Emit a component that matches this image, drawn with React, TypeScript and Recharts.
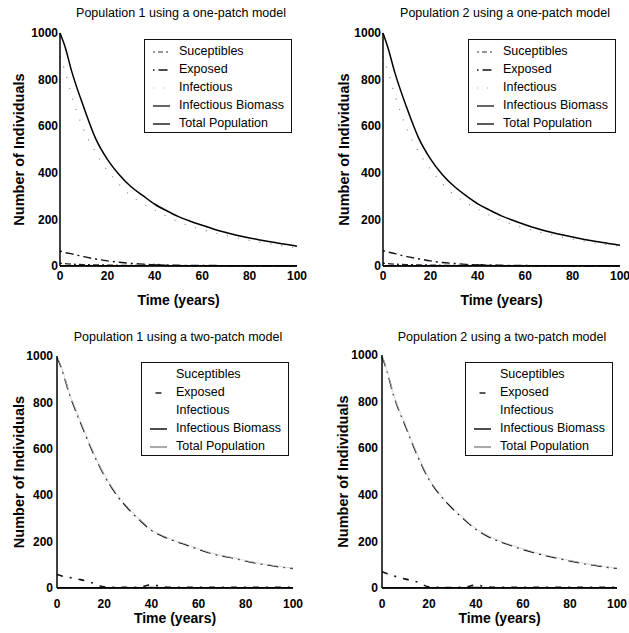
import React from 'react';
import { LineChart, Line, XAxis, YAxis, Legend } from 'recharts';

const FONT = "'Liberation Sans', Arial, Helvetica, sans-serif";

const time = [0, 2, 5, 10, 15, 20, 25, 30, 35, 40, 45, 50, 55, 60, 65, 70, 75, 80, 85, 90, 95, 100];
const seriesNames = ['Suceptibles', 'Exposed', 'Infectious', 'Infectious Biomass', 'Total Population'];
const seriesKeys = ['s', 'e', 'i', 'b', 'n'];
const xTicks = [0, 20, 40, 60, 80, 100];
const yTicks = [0, 200, 400, 600, 800, 1000];
const titles = [
  'Population 1 using a one-patch model',
  'Population 2 using a one-patch model',
  'Population 1 using a two-patch model',
  'Population 2 using a two-patch model',
];
const xLabel = 'Time (years)';
const yLabel = 'Number of Individuals';

// Population 1, one-patch model
const sus1a = [12, 10, 8, 6, 5, 4, 3, 3, 3, 7, 3, 2, 2, 2, 2, 2, 2, 2, 1, 1, 1, 1];
const exp1a = [65, 58, 52, 40, 30, 22, 16, 11, 8, 5, 4, 3, 2, 2, 2, 1, 1, 1, 1, 1, 1, 1];
const inf1a = [900, 840, 730, 585, 490, 410, 350, 300, 268, 240, 213, 190, 171, 156, 143, 131, 120, 110, 101, 93, 85, 78];
const bio1a = [0, 1, 1, 1, 1, 1, 1, 1, 1, 2, 1, 1, 1, 1, 1, 1, 1, 1, 1, 1, 1, 1];
const tot1a = [1000, 945, 833, 682, 548, 458, 392, 340, 302, 265, 237, 212, 192, 175, 158, 144, 131, 120, 111, 102, 93, 85];

// Population 2, one-patch model
const sus2a = [12, 10, 8, 6, 5, 4, 3, 3, 3, 6, 3, 2, 2, 2, 2, 2, 2, 2, 1, 1, 1, 1];
const exp2a = [66, 60, 53, 40, 31, 22, 15, 11, 7, 5, 4, 3, 2, 2, 1, 1, 1, 1, 1, 1, 1, 1];
const inf2a = [900, 840, 735, 590, 490, 415, 355, 305, 272, 244, 218, 196, 177, 162, 148, 136, 125, 115, 106, 98, 91, 84];
const bio2a = [0, 1, 1, 1, 1, 1, 1, 1, 1, 2, 1, 1, 1, 1, 1, 1, 1, 1, 1, 1, 1, 1];
const tot2a = [1000, 940, 830, 680, 550, 460, 393, 342, 302, 267, 240, 215, 195, 177, 161, 147, 135, 124, 114, 105, 97, 89];

// Population 1, two-patch model
const sus1b = [2, 2, 2, 1, 1, 1, 1, 1, 1, 2, 1, 1, 1, 1, 1, 1, 1, 1, 1, 1, 1, 1];
const exp1b = [58, 52, 46, 36, 22, 5, 3, 3, 4, 14, 5, 3, 3, 3, 3, 3, 3, 3, 3, 3, 3, 3];
const inf1b = [995, 945, 845, 712, 590, 486, 405, 344, 293, 249, 222, 202, 185, 167, 150, 138, 128, 116, 106, 98, 90, 84];
const bio1b = [0, 1, 1, 1, 1, 1, 1, 1, 1, 2, 1, 1, 1, 1, 1, 1, 1, 1, 1, 1, 1, 1];
const tot1b = [1000, 950, 850, 718, 595, 490, 410, 348, 296, 252, 225, 205, 188, 170, 152, 140, 130, 118, 108, 100, 92, 86];

// Population 2, two-patch model
const sus2b = [2, 2, 2, 1, 1, 1, 1, 1, 1, 2, 1, 1, 1, 1, 1, 1, 1, 1, 1, 1, 1, 1];
const exp2b = [70, 62, 52, 38, 26, 5, 3, 2, 4, 12, 5, 3, 3, 3, 3, 3, 3, 3, 3, 3, 3, 3];
const inf2b = [995, 935, 825, 694, 570, 466, 396, 341, 294, 252, 222, 200, 182, 165, 151, 138, 127, 116, 106, 98, 90, 84];
const bio2b = [0, 1, 1, 1, 1, 1, 1, 1, 1, 2, 1, 1, 1, 1, 1, 1, 1, 1, 1, 1, 1, 1];
const tot2b = [1000, 940, 830, 700, 575, 470, 400, 345, 297, 255, 225, 203, 185, 168, 154, 141, 130, 118, 108, 100, 92, 86];

type Row = { t: number; s: number; e: number; i: number; b: number; n: number };
function rows(s: number[], e: number[], i: number[], b: number[], n: number[]): Row[] {
  return time.map((t, k) => ({ t, s: s[k], e: e[k], i: i[k], b: b[k], n: n[k] }));
}

type Sty = { stroke: string; width: number; dash?: string; offset?: number };

const oneLines: Record<string, Sty> = {
  s: { stroke: '#222', width: 1.3, dash: '2 3 6 3' },
  e: { stroke: '#111', width: 1.4, dash: '2 4 8 4' },
  i: { stroke: '#777', width: 1.1, dash: '1 10' },
  b: { stroke: '#111', width: 1.4 },
  n: { stroke: '#000', width: 1.5 },
};
const oneLegend: Record<string, Sty> = {
  s: { stroke: '#333', width: 1.2, dash: '2 3 5 3' },
  e: { stroke: '#111', width: 1.3, dash: '1.5 4 9 3' },
  i: { stroke: '#aaa', width: 1, dash: '1 9' },
  b: { stroke: '#111', width: 1.3 },
  n: { stroke: '#000', width: 1.3 },
};
const twoLines: Record<string, Sty> = {
  s: { stroke: '#999', width: 1, dash: '2 8' },
  e: { stroke: '#111', width: 1.6, dash: '6 7 2 7' },
  i: { stroke: '#111', width: 1.4, dash: '11 5 2 5' },
  b: { stroke: '#000', width: 1.5 },
  n: { stroke: '#cfcfcf', width: 0.8 },
};
const twoLegend: Record<string, Sty> = {
  s: { stroke: 'none', width: 1 },
  e: { stroke: '#111', width: 1.4, dash: '6 20', offset: -5.5 },
  i: { stroke: 'none', width: 1 },
  b: { stroke: '#000', width: 1.4 },
  n: { stroke: '#555', width: 1 },
};

type Cfg = {
  left: number; top: number; width: number; height: number;
  plotLeft: number; plotRight: number; plotTop: number; plotBottom: number;
  yLabelX: number; yTickGap: number; xTickGap: number; xLabelOffset: number;
  title: string; titleX: number; titleY: number;
  legendX: number; legendY: number;
  data: Row[]; lines: Record<string, Sty>; legend: Record<string, Sty>;
};

const panels: Cfg[] = [
  {
    left: 0, top: 0, width: 315, height: 310,
    plotLeft: 60, plotRight: 297, plotTop: 33, plotBottom: 266,
    yLabelX: 19, yTickGap: 2, xTickGap: 5, xLabelOffset: 5,
    title: titles[0], titleX: 181, titleY: 6,
    legendX: 144, legendY: 39,
    data: rows(sus1a, exp1a, inf1a, bio1a, tot1a), lines: oneLines, legend: oneLegend,
  },
  {
    left: 315, top: 0, width: 314, height: 310,
    plotLeft: 68, plotRight: 305, plotTop: 33, plotBottom: 266,
    yLabelX: 29, yTickGap: 2, xTickGap: 5, xLabelOffset: 5,
    title: titles[1], titleX: 190, titleY: 6,
    legendX: 153, legendY: 39,
    data: rows(sus2a, exp2a, inf2a, bio2a, tot2a), lines: oneLines, legend: oneLegend,
  },
  {
    left: 0, top: 310, width: 315, height: 323,
    plotLeft: 57, plotRight: 293, plotTop: 46, plotBottom: 278,
    yLabelX: 19, yTickGap: 4, xTickGap: 11, xLabelOffset: 10,
    title: titles[2], titleX: 178, titleY: 20,
    legendX: 141, legendY: 52,
    data: rows(sus1b, exp1b, inf1b, bio1b, tot1b), lines: twoLines, legend: twoLegend,
  },
  {
    left: 315, top: 310, width: 314, height: 323,
    plotLeft: 67, plotRight: 302, plotTop: 45, plotBottom: 278,
    yLabelX: 28, yTickGap: 4, xTickGap: 11, xLabelOffset: 10,
    title: titles[3], titleX: 187, titleY: 20,
    legendX: 150, legendY: 52,
    data: rows(sus2b, exp2b, inf2b, bio2b, tot2b), lines: twoLines, legend: twoLegend,
  },
];

function LegendBox({ styles }: { styles: Record<string, Sty> }) {
  return (
    <div
      style={{
        width: 148, height: 94, boxSizing: 'border-box', border: '1.5px solid #111',
        background: '#fff', paddingTop: 3, fontFamily: FONT, fontSize: 12.5, color: '#000',
      }}
    >
      {seriesKeys.map((k, idx) => {
        const st = styles[k];
        return (
          <div key={k} style={{ height: 17.9, display: 'flex', alignItems: 'center' }}>
            <svg width={34} height={10} style={{ flex: 'none', display: 'block' }}>
              <line
                x1={8} x2={25} y1={5} y2={5}
                stroke={st.stroke} strokeWidth={st.width}
                strokeDasharray={st.dash} strokeDashoffset={st.offset}
              />
            </svg>
            <span style={{ lineHeight: '17.9px', whiteSpace: 'nowrap' }}>{seriesNames[idx]}</span>
          </div>
        );
      })}
    </div>
  );
}

const tickStyle = { fontSize: 12, fontWeight: 700, fontFamily: FONT, fill: '#000' };
const yLabelStyle = { fontSize: 14.5, fontWeight: 700, fontFamily: FONT, fill: '#000' };
const xLabelStyle = { fontSize: 14, fontWeight: 700, fontFamily: FONT, fill: '#000' };

function Panel({ cfg }: { cfg: Cfg }) {
  const c = cfg;
  return (
    <div style={{ position: 'absolute', left: c.left, top: c.top, width: c.width, height: c.height }}>
      <LineChart
        width={c.width}
        height={c.height}
        data={c.data}
        margin={{ top: c.plotTop, right: c.width - c.plotRight, bottom: 0, left: 0 }}
      >
        <XAxis
          dataKey="t"
          type="number"
          domain={[0, 100]}
          ticks={xTicks}
          interval={0}
          height={c.height - c.plotBottom}
          tickLine={false}
          tickSize={0}
          tickMargin={c.xTickGap}
          axisLine={{ stroke: '#000', strokeWidth: 1.5 }}
          tick={tickStyle}
          label={{ value: xLabel, position: 'insideBottom', offset: c.xLabelOffset, style: xLabelStyle }}
        />
        <YAxis
          type="number"
          domain={[0, 1000]}
          ticks={yTicks}
          interval={0}
          width={c.plotLeft}
          tickLine={false}
          tickSize={0}
          tickMargin={c.yTickGap}
          axisLine={{ stroke: '#000', strokeWidth: 1.5 }}
          tick={tickStyle}
          label={{
            value: yLabel, angle: -90, position: 'insideLeft', offset: c.yLabelX,
            style: { ...yLabelStyle, textAnchor: 'middle' },
          }}
        />
        {seriesKeys.map((k, idx) => {
          const st = c.lines[k];
          return (
            <Line
              key={k}
              dataKey={k}
              name={seriesNames[idx]}
              type="monotone"
              stroke={st.stroke}
              strokeWidth={st.width}
              strokeDasharray={st.dash}
              dot={false}
              activeDot={false}
              isAnimationActive={false}
            />
          );
        })}
        <Legend
          layout="horizontal"
          verticalAlign="middle"
          align="center"
          wrapperStyle={{ left: c.legendX, top: c.legendY, width: 148, height: 94 }}
          content={() => <LegendBox styles={c.legend} />}
        />
      </LineChart>
      <div
        style={{
          position: 'absolute', left: c.titleX - 150, width: 300, top: c.titleY,
          textAlign: 'center', fontFamily: FONT, fontSize: 12.5, lineHeight: '15px', color: '#000',
          whiteSpace: 'nowrap',
        }}
      >
        {c.title}
      </div>
    </div>
  );
}

export default function App() {
  return (
    <div style={{ position: 'absolute', left: 0, top: 0, width: 629, height: 633, background: '#fff', overflow: 'hidden' }}>
      {panels.map((p, i) => (
        <Panel key={i} cfg={p} />
      ))}
    </div>
  );
}
